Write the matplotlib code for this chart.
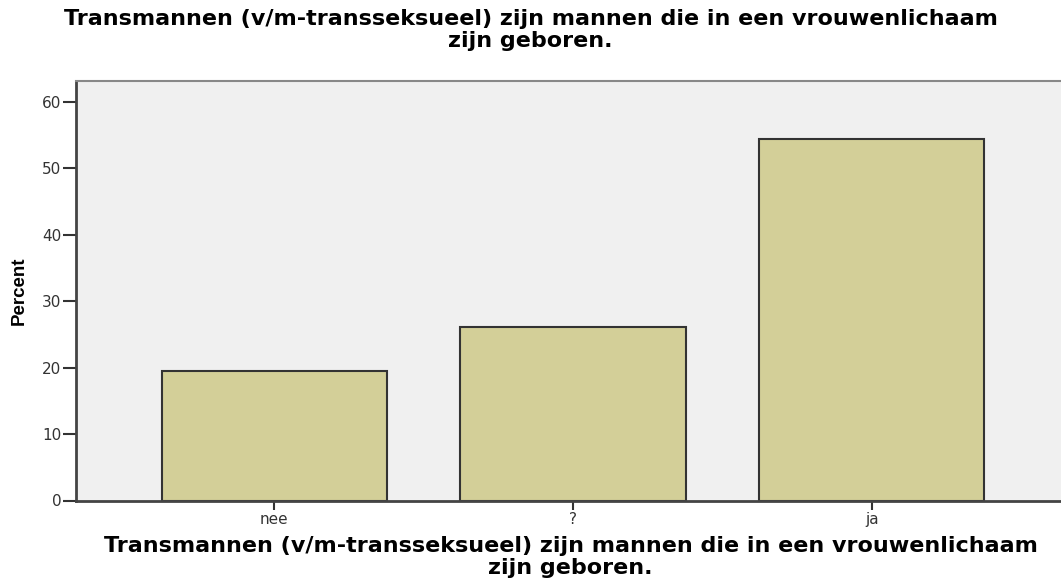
import matplotlib
matplotlib.use('agg')
import matplotlib.pyplot as plt
import numpy as np

categories = ["nee", "?", "ja"]
percent = [19.5, 26.1, 54.4]
y_ticks = [0, 10, 20, 30, 40, 50, 60]
title_lines = ["Transmannen (v/m-transseksueel) zijn mannen die in een vrouwenlichaam",
               "zijn geboren."]

W, H = 1061, 581
fig = plt.figure(figsize=(W / 100, H / 100), dpi=100)
ax = fig.add_axes([76 / W, 80.5 / H, 994 / W, 419.5 / H])
ax.set_facecolor("#f0f0f0")

x = np.arange(len(categories))
ax.bar(x, percent, width=0.753, color="#d3cf98", edgecolor="#333333",
       linewidth=1.5, zorder=2)

ax.set_xlim(-0.663, 2.663)
ax.set_ylim(0, 63.1)
ax.set_xticks(x)
ax.set_xticklabels(categories)
ax.set_yticks(y_ticks)

ax.spines["right"].set_visible(False)
ax.spines["top"].set_color("#888888")
ax.spines["top"].set_linewidth(1.5)
for side in ["left", "bottom"]:
    ax.spines[side].set_color("#444444")
    ax.spines[side].set_linewidth(2)

ax.tick_params(axis="y", direction="out", length=9.4, width=1.5,
               color="#333333", labelsize=11, labelcolor="#333333", pad=1)
ax.tick_params(axis="x", direction="out", length=6.5, width=1.5,
               color="#333333", labelsize=11, labelcolor="#333333", pad=2)

ax.set_ylabel("Percent", fontsize=13.5, fontweight="bold",
              family="Liberation Sans")
ax.yaxis.set_label_coords(-0.0483, 0.5)

# title on top, two lines
fig.text(0.5, 1 - 25 / H, title_lines[0], ha="center", va="baseline",
         fontsize=16, fontweight="bold")
fig.text(0.5, 1 - 47 / H, title_lines[1], ha="center", va="baseline",
         fontsize=16, fontweight="bold")

# axis title under the x axis
fig.text(571 / W, 1 - 552 / H, title_lines[0], ha="center", va="baseline",
         fontsize=16, fontweight="bold")
fig.text(570 / W, 1 - 574 / H, title_lines[1], ha="center", va="baseline",
         fontsize=16, fontweight="bold")

fig.savefig("out.png", dpi=100)
